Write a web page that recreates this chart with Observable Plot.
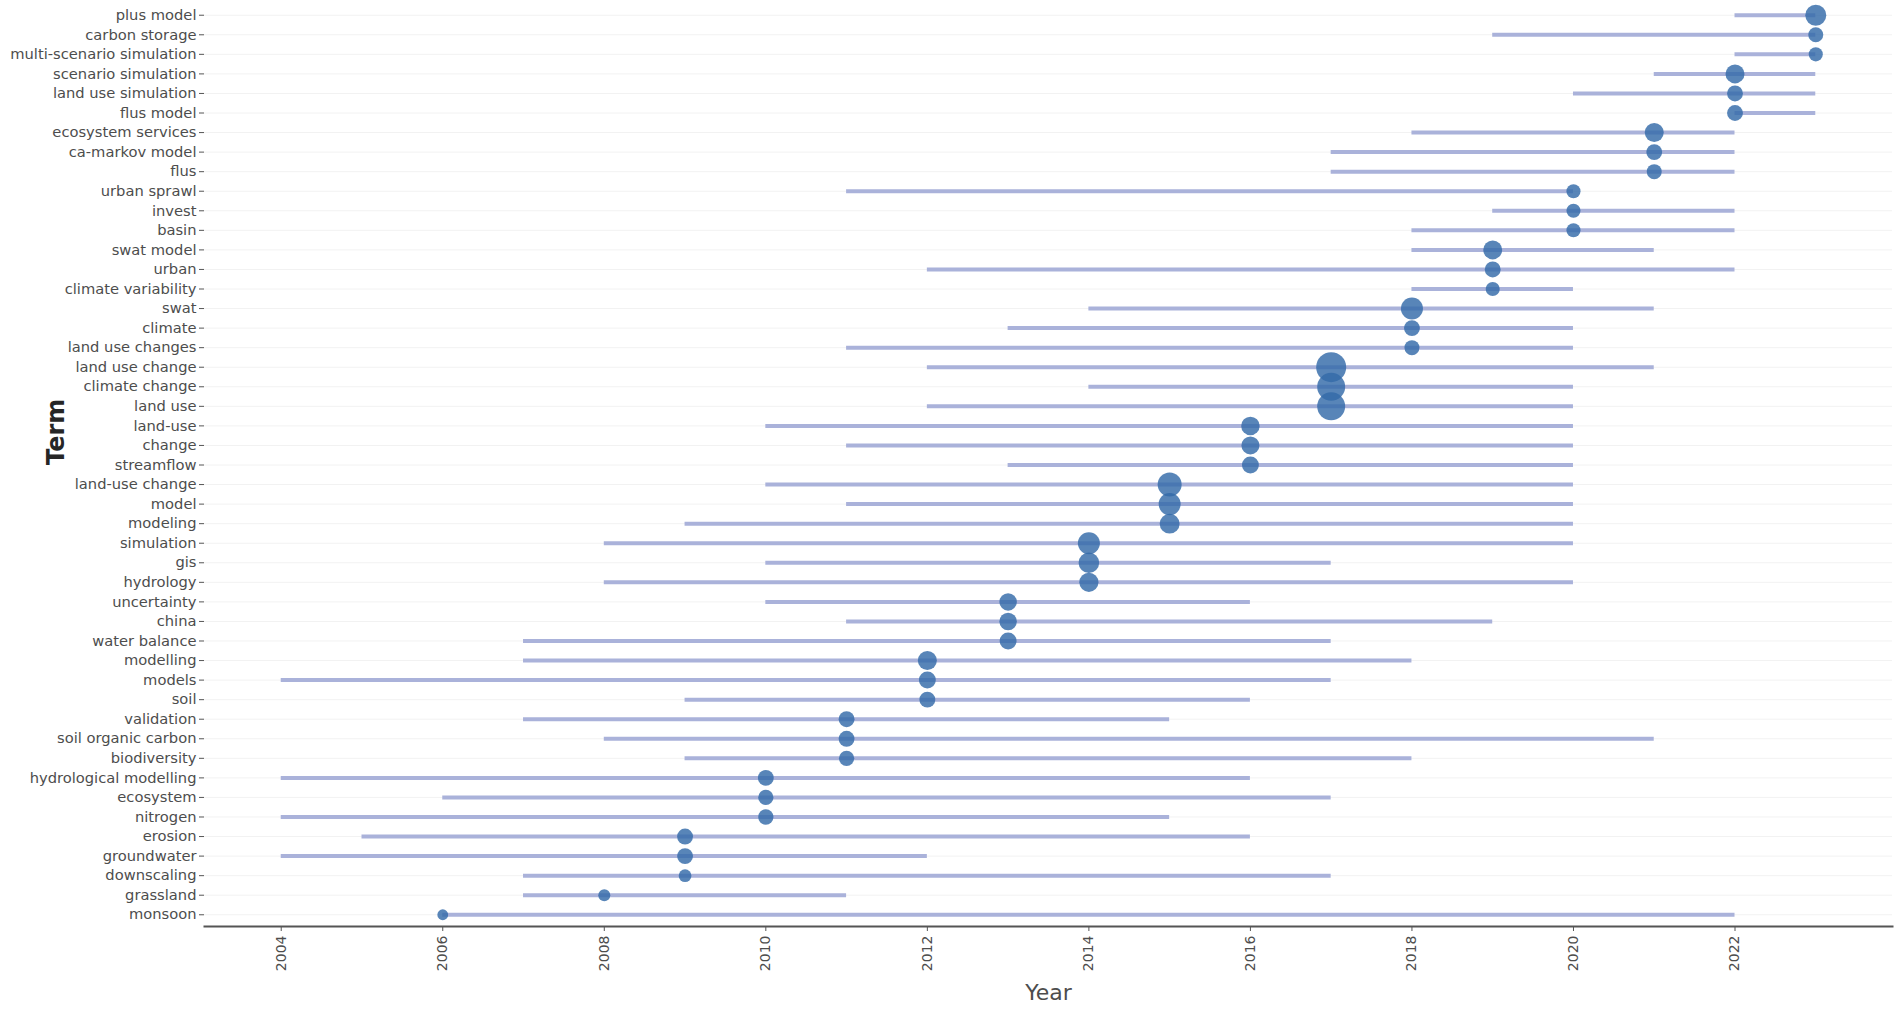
<!DOCTYPE html>
<html>
<head>
<meta charset="utf-8">
<script src="https://cdn.jsdelivr.net/npm/d3@7"></script>
<script src="https://cdn.jsdelivr.net/npm/@observablehq/plot@0.6"></script>
<style>
  html, body { margin: 0; padding: 0; background: #ffffff; }
  #chart { width: 1902px; height: 1010px; }
</style>
</head>
<body>
<div id="chart"></div>
<script>
// Terms, top to bottom
const terms = [
  "plus model", "carbon storage", "multi-scenario simulation", "scenario simulation",
  "land use simulation", "flus model", "ecosystem services", "ca-markov model", "flus",
  "urban sprawl", "invest", "basin", "swat model", "urban", "climate variability",
  "swat", "climate", "land use changes", "land use change", "climate change", "land use",
  "land-use", "change", "streamflow", "land-use change", "model", "modeling",
  "simulation", "gis", "hydrology", "uncertainty", "china", "water balance",
  "modelling", "models", "soil", "validation", "soil organic carbon", "biodiversity",
  "hydrological modelling", "ecosystem", "nitrogen", "erosion", "groundwater",
  "downscaling", "grassland", "monsoon"
];
// First year of the term's span
const startYear = [
  2022, 2019, 2022, 2021, 2020, 2022, 2018, 2017, 2017, 2011, 2019, 2018, 2018, 2012, 2018,
  2014, 2013, 2011, 2012, 2014, 2012, 2010, 2011, 2013, 2010, 2011, 2009, 2008, 2010, 2008,
  2010, 2011, 2007, 2007, 2004, 2009, 2007, 2008, 2009, 2004, 2006, 2004, 2005, 2004,
  2007, 2007, 2006
];
// Last year of the term's span
const endYear = [
  2023, 2023, 2023, 2023, 2023, 2023, 2022, 2022, 2022, 2020, 2022, 2022, 2021, 2022, 2020,
  2021, 2020, 2020, 2021, 2020, 2020, 2020, 2020, 2020, 2020, 2020, 2020, 2020, 2017, 2020,
  2016, 2019, 2017, 2018, 2017, 2016, 2015, 2021, 2018, 2016, 2017, 2015, 2016, 2012,
  2017, 2011, 2022
];
// Year of peak frequency (dot position)
const peakYear = [
  2023, 2023, 2023, 2022, 2022, 2022, 2021, 2021, 2021, 2020, 2020, 2020, 2019, 2019, 2019,
  2018, 2018, 2018, 2017, 2017, 2017, 2016, 2016, 2016, 2015, 2015, 2015, 2014, 2014, 2014,
  2013, 2013, 2013, 2012, 2012, 2012, 2011, 2011, 2011, 2010, 2010, 2010, 2009, 2009,
  2009, 2008, 2006
];
// Term frequency (dot size)
const freq = [
  49, 25, 22, 40, 28, 28, 40, 28, 25, 22, 22, 22, 40, 28, 22,
  54, 28, 25, 100, 87, 87, 38, 36, 32, 64, 54, 44, 54, 47, 41,
  34, 34, 32, 40, 32, 28, 28, 28, 26, 28, 26, 26, 28, 28,
  18, 16, 13
];
const xTicks = [2004, 2006, 2008, 2010, 2012, 2014, 2016, 2018, 2020, 2022];

const data = terms.map((t, i) => ({
  term: t, start: startYear[i], end: endYear[i], peak: peakYear[i], freq: freq[i]
}));

const chart = Plot.plot({
  width: 1902,
  height: 1010,
  marginLeft: 204,
  marginRight: 10,
  marginTop: 3,
  marginBottom: 84,
  style: { fontFamily: "DejaVu Sans, Verdana, sans-serif", color: "#4d4d4d", background: "#ffffff" },
  x: { domain: [2003.05, 2023.95] },
  y: { type: "point", domain: terms, padding: 0.6, round: false },
  r: { type: "sqrt", domain: [0, 100], range: [0, 15] },
  marks: [
    Plot.ruleY(terms, { y: d => d, stroke: "#f2f2f2", strokeWidth: 1 }),
    Plot.ruleY(data, { y: "term", x1: "start", x2: "end", stroke: "#aab2da", strokeWidth: 4 }),
    Plot.dot(data, { x: "peak", y: "term", r: "freq", fill: "#336aa8", fillOpacity: 0.82, stroke: "none" }),
    Plot.axisY({ tickSize: 5, tickPadding: 3, fontSize: 14.7, label: null, stroke: "#555" }),
    Plot.axisX({ ticks: xTicks, tickFormat: d => String(d), tickRotate: -90, tickSize: 5, tickPadding: 4, fontSize: 14, label: null, stroke: "#555" }),
    Plot.frame({ anchor: "bottom", stroke: "#555", strokeWidth: 2 }),
    Plot.text(["Year"], { frameAnchor: "bottom", dy: 73, fontSize: 22, fill: "#4d4d4d" }),
    Plot.text(["Term"], { frameAnchor: "left", dx: -148, rotate: -90, fontSize: 24, fontWeight: "bold", fill: "#262626" })
  ]
});
document.getElementById("chart").appendChild(chart);
</script>
</body>
</html>
